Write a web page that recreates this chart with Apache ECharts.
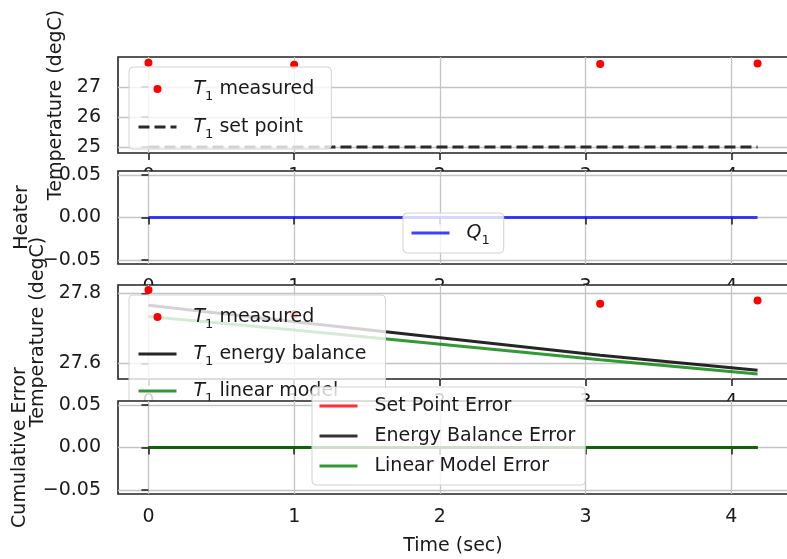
<!DOCTYPE html>
<html>
<head>
<meta charset="utf-8">
<script src="https://cdn.jsdelivr.net/npm/echarts@6/dist/echarts.min.js"></script>
<style>
  html, body { margin: 0; padding: 0; background: #fff; }
  #chart { width: 787px; height: 559px; }
</style>
</head>
<body>
<div id="chart"></div>
<script>
// Sample times and recorded / simulated signals
const timeSec = [0, 1.0, 3.1, 4.18];
const t1Measured = [27.81, 27.74, 27.77, 27.78];
const t1SetPoint = [25, 25, 25, 25];
const q1Heater = [0, 0, 0, 0];
const t1EnergyBalance = [27.766, 27.719, 27.623, 27.58];
const t1LinearModel = [27.734, 27.695, 27.61, 27.569];
const setPointError = [0, 0, 0, 0];
const energyBalanceError = [0, 0, 0, 0];
const linearModelError = [0, 0, 0, 0];

// Tick values for each axis
const timeTicks = [0, 1, 2, 3, 4];
const tempTicksTop = [25, 26, 27];
const heaterTicks = [-0.05, 0, 0.05];
const tempTicksModel = [27.6, 27.8];
const errorTicks = [-0.05, 0, 0.05];

const FONT = 'DejaVu Sans';
const INK = '#1a1a1a';
const FS = 19;

const pairs = (xs, ys) => xs.map((x, i) => [x, ys[i]]);
const signed2 = v => (v < -1e-9 ? '\u2212' : '') + Math.abs(v).toFixed(2);

const legendText = {
  'T1 measured': '{it|T}{sub|1} measured',
  'T1 set point': '{it|T}{sub|1} set point',
  'Q1': '{it|Q}{sub|1}',
  'T1 energy balance': '{it|T}{sub|1} energy balance',
  'T1 linear model': '{it|T}{sub|1} linear model',
  'Set Point Error': 'Set Point Error',
  'Energy Balance Error': 'Energy Balance Error',
  'Linear Model Error': 'Linear Model Error'
};

// Line entries show only the stroke in the legend, without a marker
const lineEntry = name => ({ name: name, itemStyle: { color: 'rgba(0,0,0,0)', borderWidth: 0 } });

function xAxisFor(i, withName) {
  return {
    type: 'value', gridIndex: i, min: -0.209, max: 4.389, z: i * 10 + 2,
    axisLine: { show: false },
    axisTick: { show: true, length: 7, lineStyle: { color: INK, width: 1.5 }, customValues: timeTicks },
    axisLabel: { show: true, customValues: timeTicks, margin: 14, fontSize: FS, fontFamily: FONT, color: INK,
                 formatter: v => String(v) },
    splitLine: { show: true, lineStyle: { color: '#c4c4c4', width: 1.3 } },
    name: withName ? 'Time (sec)' : '', nameLocation: 'middle', nameGap: 43,
    nameTextStyle: { fontSize: FS, fontFamily: FONT, color: INK }
  };
}

function yAxisFor(i, min, max, ticks, fmt, name, gap) {
  return {
    type: 'value', gridIndex: i, min: min, max: max, z: i * 10 + 2,
    axisLine: { show: false },
    axisTick: { show: true, length: 7, lineStyle: { color: INK, width: 1.5 }, customValues: ticks },
    axisLabel: { show: true, customValues: ticks, margin: 17, fontSize: FS, fontFamily: FONT, color: INK, formatter: fmt },
    splitLine: { show: true, lineStyle: { color: '#c4c4c4', width: 1.3 } },
    name: name, nameLocation: 'middle', nameGap: gap,
    nameTextStyle: { fontSize: FS, fontFamily: FONT, color: INK }
  };
}

function legendFor(i, items, left, top, lineH, gap, pad) {
  return {
    data: items, left: left, top: top, orient: 'vertical', z: i * 10 + 5,
    itemWidth: 38, itemHeight: 8, itemGap: gap, padding: pad,
    backgroundColor: 'rgba(255,255,255,0.8)', borderColor: '#d3d3d3', borderWidth: 1, borderRadius: 4,
    selectedMode: false,
    lineStyle: { width: 3 },
    formatter: n => legendText[n],
    textStyle: {
      fontSize: FS, fontFamily: FONT, color: INK, lineHeight: lineH, padding: [0, 0, 0, 12],
      rich: {
        it: { fontStyle: 'italic', fontSize: FS, fontFamily: FONT, color: INK, lineHeight: lineH },
        sub: { fontSize: 13, fontFamily: FONT, color: INK, lineHeight: 17, verticalAlign: 'bottom' }
      }
    }
  };
}

const gridBase = { left: 118, width: 670, show: true, backgroundColor: '#fff',
                   borderColor: '#222', borderWidth: 1.6, outerBoundsMode: 'none', containLabel: false };

const option = {
  animation: false,
  backgroundColor: '#fff',
  grid: [
    Object.assign({}, gridBase, { top: 57, height: 96, z: 1 }),
    Object.assign({}, gridBase, { top: 171, height: 93, z: 11 }),
    Object.assign({}, gridBase, { top: 285, height: 94, z: 21 }),
    Object.assign({}, gridBase, { top: 401, height: 93, z: 31 })
  ],
  xAxis: [xAxisFor(0, false), xAxisFor(1, false), xAxisFor(2, false), xAxisFor(3, true)],
  yAxis: [
    yAxisFor(0, 24.8, 28.0, tempTicksTop, v => String(Math.round(v)), 'Temperature (degC)', 49),
    yAxisFor(1, -0.055, 0.055, heaterTicks, signed2, 'Heater', 85),
    yAxisFor(2, 27.555, 27.824, tempTicksModel, v => v.toFixed(1), 'Temperature (degC)', 68),
    yAxisFor(3, -0.055, 0.055, errorTicks, signed2, 'Cumulative Error', 88)
  ],
  legend: [
    legendFor(0, ['T1 measured', lineEntry('T1 set point')], 129, 67, 28, 10, [8, 17, 8, 8]),
    legendFor(1, [lineEntry('Q1')], 403, 213, 28, 10, [6, 14, 6, 7]),
    legendFor(2, ['T1 measured', lineEntry('T1 energy balance'), lineEntry('T1 linear model')], 129, 295, 28, 9, [8, 19, 8, 8]),
    legendFor(3, [lineEntry('Set Point Error'), lineEntry('Energy Balance Error'), lineEntry('Linear Model Error')],
              312, 387, 22, 8, [8, 10, 8, 6])
  ],
  series: [
    { type: 'scatter', name: 'T1 measured', xAxisIndex: 0, yAxisIndex: 0, z: 3,
      data: pairs(timeSec, t1Measured), symbolSize: 8, itemStyle: { color: '#ff0000', opacity: 1 } },
    { type: 'line', name: 'T1 set point', xAxisIndex: 0, yAxisIndex: 0, z: 3,
      data: pairs(timeSec, t1SetPoint), symbol: 'none',
      lineStyle: { color: '#2b2b2b', width: 3, type: [11, 5] }, itemStyle: { color: '#2b2b2b' } },
    { type: 'line', name: 'Q1', xAxisIndex: 1, yAxisIndex: 1, z: 13,
      data: pairs(timeSec, q1Heater), symbol: 'none',
      lineStyle: { color: 'rgba(0,0,255,0.75)', width: 3 }, itemStyle: { color: 'rgba(0,0,255,0.75)' } },
    { type: 'scatter', name: 'T1 measured', xAxisIndex: 2, yAxisIndex: 2, z: 23,
      data: pairs(timeSec, t1Measured), symbolSize: 8, itemStyle: { color: '#ff0000', opacity: 1 } },
    { type: 'line', name: 'T1 energy balance', xAxisIndex: 2, yAxisIndex: 2, z: 23,
      data: pairs(timeSec, t1EnergyBalance), symbol: 'none',
      lineStyle: { color: 'rgba(0,0,0,0.85)', width: 3 }, itemStyle: { color: 'rgba(0,0,0,0.85)' } },
    { type: 'line', name: 'T1 linear model', xAxisIndex: 2, yAxisIndex: 2, z: 23,
      data: pairs(timeSec, t1LinearModel), symbol: 'none',
      lineStyle: { color: 'rgba(0,128,0,0.8)', width: 3 }, itemStyle: { color: 'rgba(0,128,0,0.8)' } },
    { type: 'line', name: 'Set Point Error', xAxisIndex: 3, yAxisIndex: 3, z: 33,
      data: pairs(timeSec, setPointError), symbol: 'none',
      lineStyle: { color: 'rgba(255,0,0,0.8)', width: 3 }, itemStyle: { color: 'rgba(255,0,0,0.8)' } },
    { type: 'line', name: 'Energy Balance Error', xAxisIndex: 3, yAxisIndex: 3, z: 33,
      data: pairs(timeSec, energyBalanceError), symbol: 'none',
      lineStyle: { color: 'rgba(0,0,0,0.8)', width: 3 }, itemStyle: { color: 'rgba(0,0,0,0.8)' } },
    { type: 'line', name: 'Linear Model Error', xAxisIndex: 3, yAxisIndex: 3, z: 33,
      data: pairs(timeSec, linearModelError), symbol: 'none',
      lineStyle: { color: 'rgba(0,128,0,0.8)', width: 3 }, itemStyle: { color: 'rgba(0,128,0,0.8)' } }
  ]
};

const chart = echarts.init(document.getElementById('chart'), null, { renderer: 'canvas' });
chart.setOption(option);
</script>
</body>
</html>
